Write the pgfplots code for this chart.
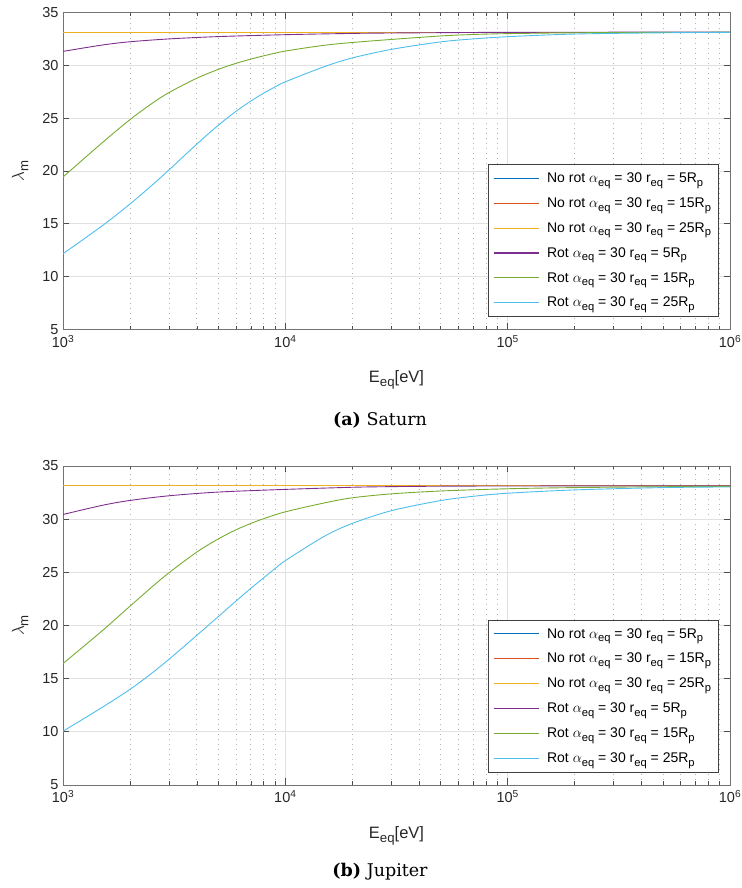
\documentclass[border=0pt]{standalone}
\usepackage{fontspec}
\usepackage{amsmath}
\usepackage{graphicx}
\usepackage{pgfplots}
\pgfplotsset{compat=1.18}
\setmainfont{Liberation Sans}
\newfontfamily\capfont{DejaVu Serif}
\newcommand{\sub}[1]{\raisebox{-0.5ex}{\scalebox{0.8}{#1}}}
\definecolor{mblue}{rgb}{0,0.447,0.741}
\definecolor{morange}{rgb}{0.85,0.325,0.098}
\definecolor{myellow}{rgb}{0.929,0.694,0.125}
\definecolor{mpurple}{rgb}{0.494,0.184,0.556}
\definecolor{mgreen}{rgb}{0.466,0.674,0.188}
\definecolor{mcyan}{rgb}{0.301,0.745,0.933}
\pgfplotsset{
  every axis/.append style={
    scale only axis, width=667pt,
    xmin=1e3, xmax=1e6, ymin=5, ymax=35,
    ytick={5,10,...,35},
    xtick={1e3,1e4,1e5,1e6},
    xticklabels={10$^{\text{3}}$,10$^{\text{4}}$,10$^{\text{5}}$,10$^{\text{6}}$},
    minor xtick={2e3,3e3,4e3,5e3,6e3,7e3,8e3,9e3,2e4,3e4,4e4,5e4,6e4,7e4,8e4,9e4,2e5,3e5,4e5,5e5,6e5,7e5,8e5,9e5},
    xmajorgrids, ymajorgrids, xminorgrids,
    major grid style={color=black!12, line width=0.8pt},
    minor grid style={color=black!30, line width=0.8pt, dash pattern=on 1pt off 4pt},
    axis line style={color=black!55, line width=0.9pt},
    tick style={color=black!70, line width=0.7pt},
    major tick length=6.5pt, minor tick length=3.5pt,
    tick label style={font=\fontsize{14.5}{15}\selectfont, text=black!85},
    xticklabel style={yshift=-2pt},
    yticklabel style={xshift=-1pt},
    xlabel={E\sub{eq}[eV]}, ylabel={$\lambda$\sub{m}},
    label style={font=\fontsize{16.5}{17}\selectfont, text=black!85},
    xlabel style={at={(axis description cs:0.5,0)}, anchor=base, yshift=-53pt},
    ylabel style={at={(axis description cs:-0.0585,0.5)}, anchor=base},
    legend cell align=left,
    legend style={at={(1,0)}, anchor=south east, xshift=-11.7pt, yshift=12.8pt,
      draw=black!75, line width=0.6pt, fill=white, font=\fontsize{14}{15}\selectfont,
      row sep=9.6pt, inner xsep=5pt, inner ysep=6pt},
  },
  every axis plot/.append style={line width=0.9pt, smooth},
  legend image code/.code={\draw[#1,line width=1.2pt] (0pt,0pt) -- (45pt,0pt); \path (51pt,0pt);},
  /pgf/number format/assume math mode=true,
}
\begin{document}
\begin{tikzpicture}[x=1pt,y=1pt]
\useasboundingbox (0,0) rectangle (741,888);
% (a) Saturn
\begin{semilogxaxis}[height=317pt, at={(63pt,558.5pt)}, anchor=south west]
\addplot[mblue] coordinates {(1e3,33.15) (1e6,33.15)};
\addplot[morange] coordinates {(1e3,33.15) (1e6,33.15)};
\addplot[myellow] coordinates {(1e3,33.15) (1e6,33.15)};
\addplot[mpurple] coordinates {(1e3,31.32) (1.5e3,31.92) (2e3,32.23) (3e3,32.5) (5e3,32.72) (1e4,32.9) (2e4,33.02) (3e4,33.06) (5e4,33.09) (1e5,33.12) (1e6,33.15)};
\addplot[mgreen] coordinates {(1e3,19.43) (1.5e3,22.67) (2e3,24.86) (2.5e3,26.36) (3e3,27.43) (4e3,28.78) (5e3,29.62) (6e3,30.19) (7e3,30.59) (8e3,30.9) (1e4,31.35) (1.5e4,31.9) (2e4,32.16) (3e4,32.45) (5e4,32.78) (7e4,32.92) (1e5,33.0) (2e5,33.08) (5e5,33.12) (1e6,33.14)};
\addplot[mcyan] coordinates {(1e3,12.17) (1.5e3,14.81) (2e3,16.87) (2.5e3,18.61) (3e3,20.11) (4e3,22.55) (5e3,24.34) (6e3,25.65) (7e3,26.62) (8e3,27.37) (9e3,27.96) (1e4,28.44) (1.5e4,29.88) (2e4,30.7) (3e4,31.51) (5e4,32.22) (7e4,32.5) (1e5,32.71) (2e5,32.96) (5e5,33.08) (1e6,33.12)};
\legend{No rot $\alpha$\sub{eq} = 30 r\sub{eq} = 5R\sub{p},
        No rot $\alpha$\sub{eq} = 30 r\sub{eq} = 15R\sub{p},
        No rot $\alpha$\sub{eq} = 30 r\sub{eq} = 25R\sub{p},
        Rot $\alpha$\sub{eq} = 30 r\sub{eq} = 5R\sub{p},
        Rot $\alpha$\sub{eq} = 30 r\sub{eq} = 15R\sub{p},
        Rot $\alpha$\sub{eq} = 30 r\sub{eq} = 25R\sub{p}}
\end{semilogxaxis}
\node[anchor=base, font=\capfont\fontsize{17.5}{20}\selectfont] at (380,462) {\textbf{(a)} Saturn};
% (b) Jupiter
\begin{semilogxaxis}[height=319pt, at={(63pt,103pt)}, anchor=south west]
\addplot[mblue] coordinates {(1e3,33.14) (1e6,33.14)};
\addplot[morange] coordinates {(1e3,33.14) (1e6,33.14)};
\addplot[myellow] coordinates {(1e3,33.14) (1e6,33.14)};
\addplot[mpurple] coordinates {(1e3,30.44) (1.5e3,31.3) (2e3,31.76) (3e3,32.2) (5e3,32.55) (1e4,32.8) (2e4,33.0) (3e4,33.06) (5e4,33.1) (1e5,33.12) (1e6,33.14)};
\addplot[mgreen] coordinates {(1e3,16.42) (1.5e3,19.5) (2e3,21.81) (2.5e3,23.59) (3e3,24.97) (4e3,26.91) (5e3,28.15) (6e3,29.0) (7e3,29.6) (8e3,30.05) (1e4,30.69) (1.5e4,31.53) (2e4,32.01) (3e4,32.38) (5e4,32.65) (1e5,32.86) (2e5,32.97) (5e5,33.05) (1e6,33.08)};
\addplot[mcyan] coordinates {(1e3,10.06) (1.5e3,12.3) (2e3,13.99) (2.5e3,15.49) (3e3,16.83) (4e3,19.08) (5e3,20.85) (6e3,22.3) (7e3,23.5) (8e3,24.49) (9e3,25.36) (1e4,26.1) (1.5e4,28.4) (2e4,29.6) (3e4,30.8) (5e4,31.75) (7e4,32.15) (1e5,32.44) (2e5,32.75) (5e5,32.97) (1e6,33.03)};
\legend{No rot $\alpha$\sub{eq} = 30 r\sub{eq} = 5R\sub{p},
        No rot $\alpha$\sub{eq} = 30 r\sub{eq} = 15R\sub{p},
        No rot $\alpha$\sub{eq} = 30 r\sub{eq} = 25R\sub{p},
        Rot $\alpha$\sub{eq} = 30 r\sub{eq} = 5R\sub{p},
        Rot $\alpha$\sub{eq} = 30 r\sub{eq} = 15R\sub{p},
        Rot $\alpha$\sub{eq} = 30 r\sub{eq} = 25R\sub{p}}
\end{semilogxaxis}
\node[anchor=base, font=\capfont\fontsize{17.5}{20}\selectfont] at (380,11) {\textbf{(b)} Jupiter};
\end{tikzpicture}
\end{document}
